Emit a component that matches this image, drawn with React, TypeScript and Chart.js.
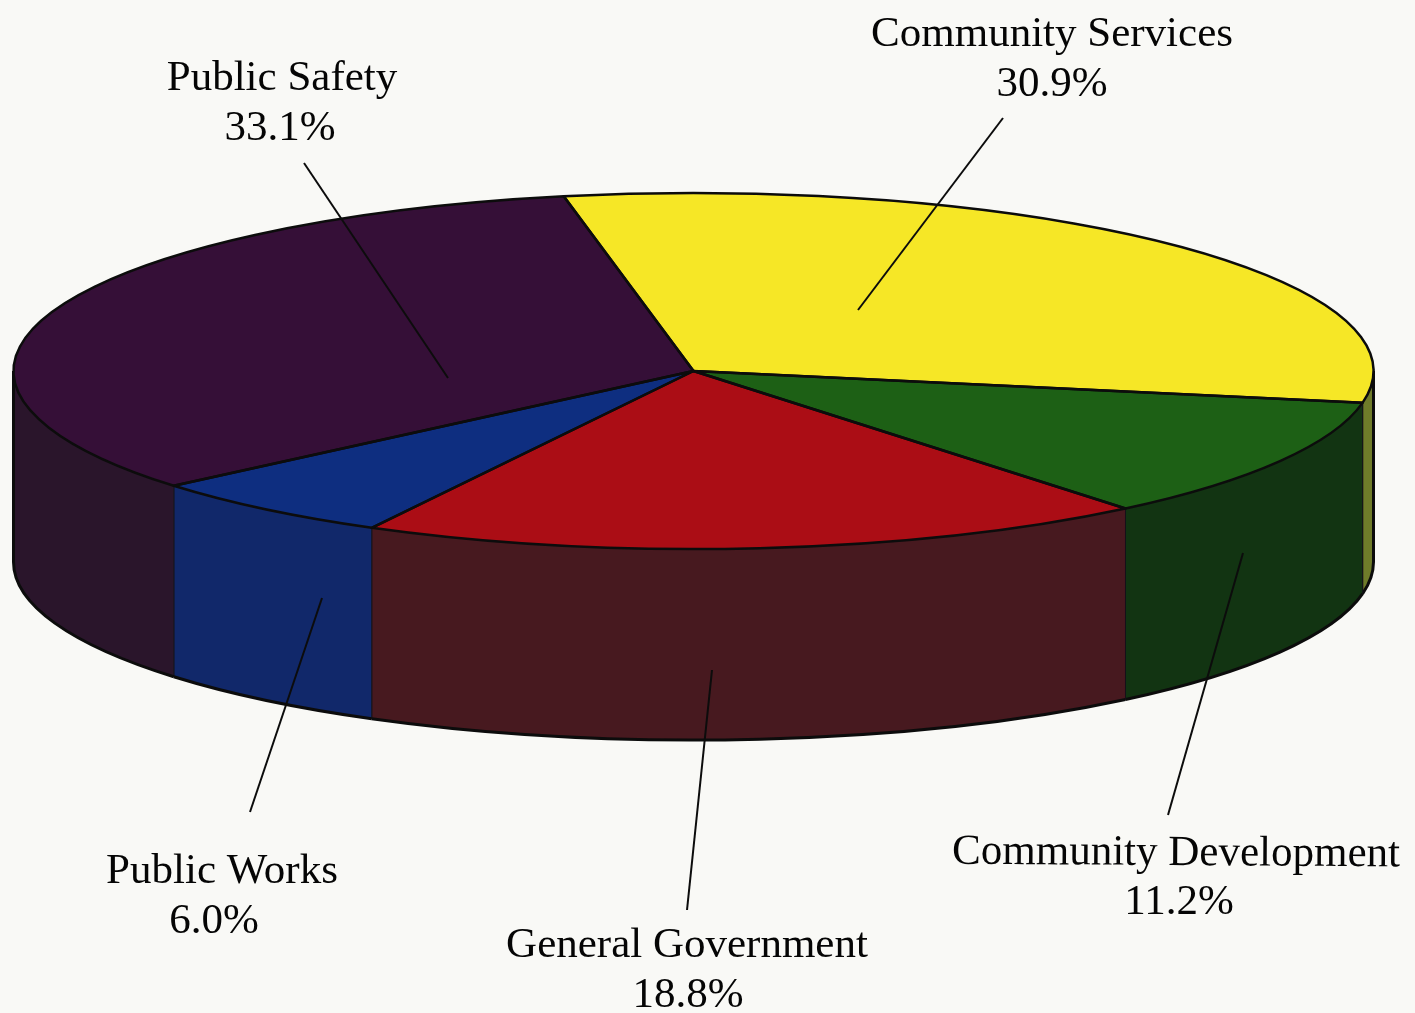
import React, { useEffect, useRef } from "react";
import { Chart, registerables } from "chart.js";

Chart.register(...registerables);

const categories = ["Community Services", "Community Development", "General Government", "Public Works", "Public Safety"];
const shares = [30.9, 11.2, 18.8, 6.0, 33.1];
const topColors = ["#f6e726", "#1d6015", "#ab0d15", "#0e2e80", "#350f37"];
const wallColors = ["#6f7c2a", "#123412", "#47191f", "#11286a", "#2a152b"];

const PAPER = "#f9f9f6";
const INK = "#0c0c0c";
const FONT = '"Liberation Serif", serif';
const FONT_SIZE = 43;
const CENTER_X = 693.5;
const CENTER_Y = 371;
const RADIUS_X = 680;
const RADIUS_Y = 178;
const DEPTH = 191;

// name line centre and baseline, value line centre and baseline, slight tilt from the scan
const labelPlaces = [
  { nx: 1052, ny: 46, vx: 1052, vy: 96, tilt: 0 },
  { nx: 1176, ny: 865, vx: 1179, vy: 914, tilt: 0.006 },
  { nx: 687, ny: 957, vx: 688, vy: 1007, tilt: 0 },
  { nx: 222, ny: 883, vx: 214, vy: 933, tilt: 0 },
  { nx: 282, ny: 90, vx: 280, vy: 140, tilt: 0 },
];

const leaders = [
  [1003, 118, 858, 310],
  [1168, 815, 1243, 553],
  [687, 910, 712, 670],
  [250, 812, 322, 598],
  [304, 163, 448, 378],
];

const pie3d = {
  id: "pie3d",
  beforeDraw(chart: any) {
    const { ctx, width, height } = chart;
    ctx.save();
    ctx.fillStyle = PAPER;
    ctx.fillRect(0, 0, width, height);
    ctx.restore();
  },
  beforeDatasetsDraw(chart: any) {
    const { ctx } = chart;
    const arcs = chart.getDatasetMeta(0).data;
    // walls of the slab, taken from the arc elements' own angles
    arcs.forEach((arc: any, i: number) => {
      const from = Math.max(arc.startAngle, 0);
      const to = Math.min(arc.endAngle, Math.PI);
      if (to <= from) return;
      ctx.beginPath();
      ctx.ellipse(CENTER_X, CENTER_Y, RADIUS_X, RADIUS_Y, 0, from, to);
      ctx.ellipse(CENTER_X, CENTER_Y + DEPTH, RADIUS_X, RADIUS_Y, 0, to, from, true);
      ctx.closePath();
      ctx.fillStyle = wallColors[i];
      ctx.fill();
      ctx.strokeStyle = "#15121a";
      ctx.lineWidth = 1;
      ctx.stroke();
      ctx.beginPath();
      ctx.ellipse(CENTER_X, CENTER_Y + DEPTH, RADIUS_X, RADIUS_Y, 0, from, to);
      ctx.strokeStyle = INK;
      ctx.lineWidth = 3;
      ctx.stroke();
    });
    // outer verticals of the slab
    ctx.strokeStyle = INK;
    ctx.lineWidth = 3;
    [CENTER_X - RADIUS_X, CENTER_X + RADIUS_X].forEach((x) => {
      ctx.beginPath();
      ctx.moveTo(x, CENTER_Y);
      ctx.lineTo(x, CENTER_Y + DEPTH);
      ctx.stroke();
    });
    // squash the library's round pie into the tilted top face
    const first = arcs[0];
    const r = first.outerRadius;
    ctx.save();
    ctx.translate(CENTER_X, CENTER_Y);
    ctx.scale(RADIUS_X / r, RADIUS_Y / r);
    ctx.translate(-first.x, -first.y);
  },
  afterDatasetsDraw(chart: any) {
    const { ctx } = chart;
    ctx.restore();
    const arcs = chart.getDatasetMeta(0).data;
    ctx.lineJoin = "round";
    arcs.forEach((arc: any) => {
      ctx.beginPath();
      ctx.moveTo(CENTER_X, CENTER_Y);
      ctx.ellipse(CENTER_X, CENTER_Y, RADIUS_X, RADIUS_Y, 0, arc.startAngle, arc.endAngle);
      ctx.closePath();
      ctx.strokeStyle = INK;
      ctx.lineWidth = 2.5;
      ctx.stroke();
    });
    // leader lines
    ctx.strokeStyle = INK;
    ctx.lineWidth = 2;
    leaders.forEach(([x0, y0, x1, y1]) => {
      ctx.beginPath();
      ctx.moveTo(x0, y0);
      ctx.lineTo(x1, y1);
      ctx.stroke();
    });
    // labels
    ctx.fillStyle = "#050505";
    ctx.textAlign = "center";
    ctx.textBaseline = "alphabetic";
    ctx.font = `${FONT_SIZE}px ${FONT}`;
    categories.forEach((name, i) => {
      const p = labelPlaces[i];
      ctx.save();
      ctx.translate(p.nx, p.ny);
      ctx.rotate(p.tilt);
      ctx.fillText(name, 0, 0);
      ctx.restore();
      ctx.fillText(`${shares[i].toFixed(1)}%`, p.vx, p.vy);
    });
  },
};

export default function App() {
  const ref = useRef<HTMLCanvasElement | null>(null);
  useEffect(() => {
    document.body.style.background = PAPER;
    const chart = new Chart(ref.current as HTMLCanvasElement, {
      type: "pie",
      data: {
        labels: categories,
        datasets: [
          {
            data: shares,
            backgroundColor: topColors,
            borderWidth: 0,
            clip: false,
          } as any,
        ],
      },
      options: {
        responsive: false,
        animation: false,
        rotation: -11,
        layout: { padding: 0 },
        plugins: { legend: { display: false }, tooltip: { enabled: false }, title: { display: false } },
      },
      plugins: [pie3d],
    });
    return () => chart.destroy();
  }, []);
  return (
    <canvas
      ref={ref}
      width={1415}
      height={1013}
      style={{ position: "absolute", left: 0, top: 0, width: 1415, height: 1013, display: "block" }}
    />
  );
}
